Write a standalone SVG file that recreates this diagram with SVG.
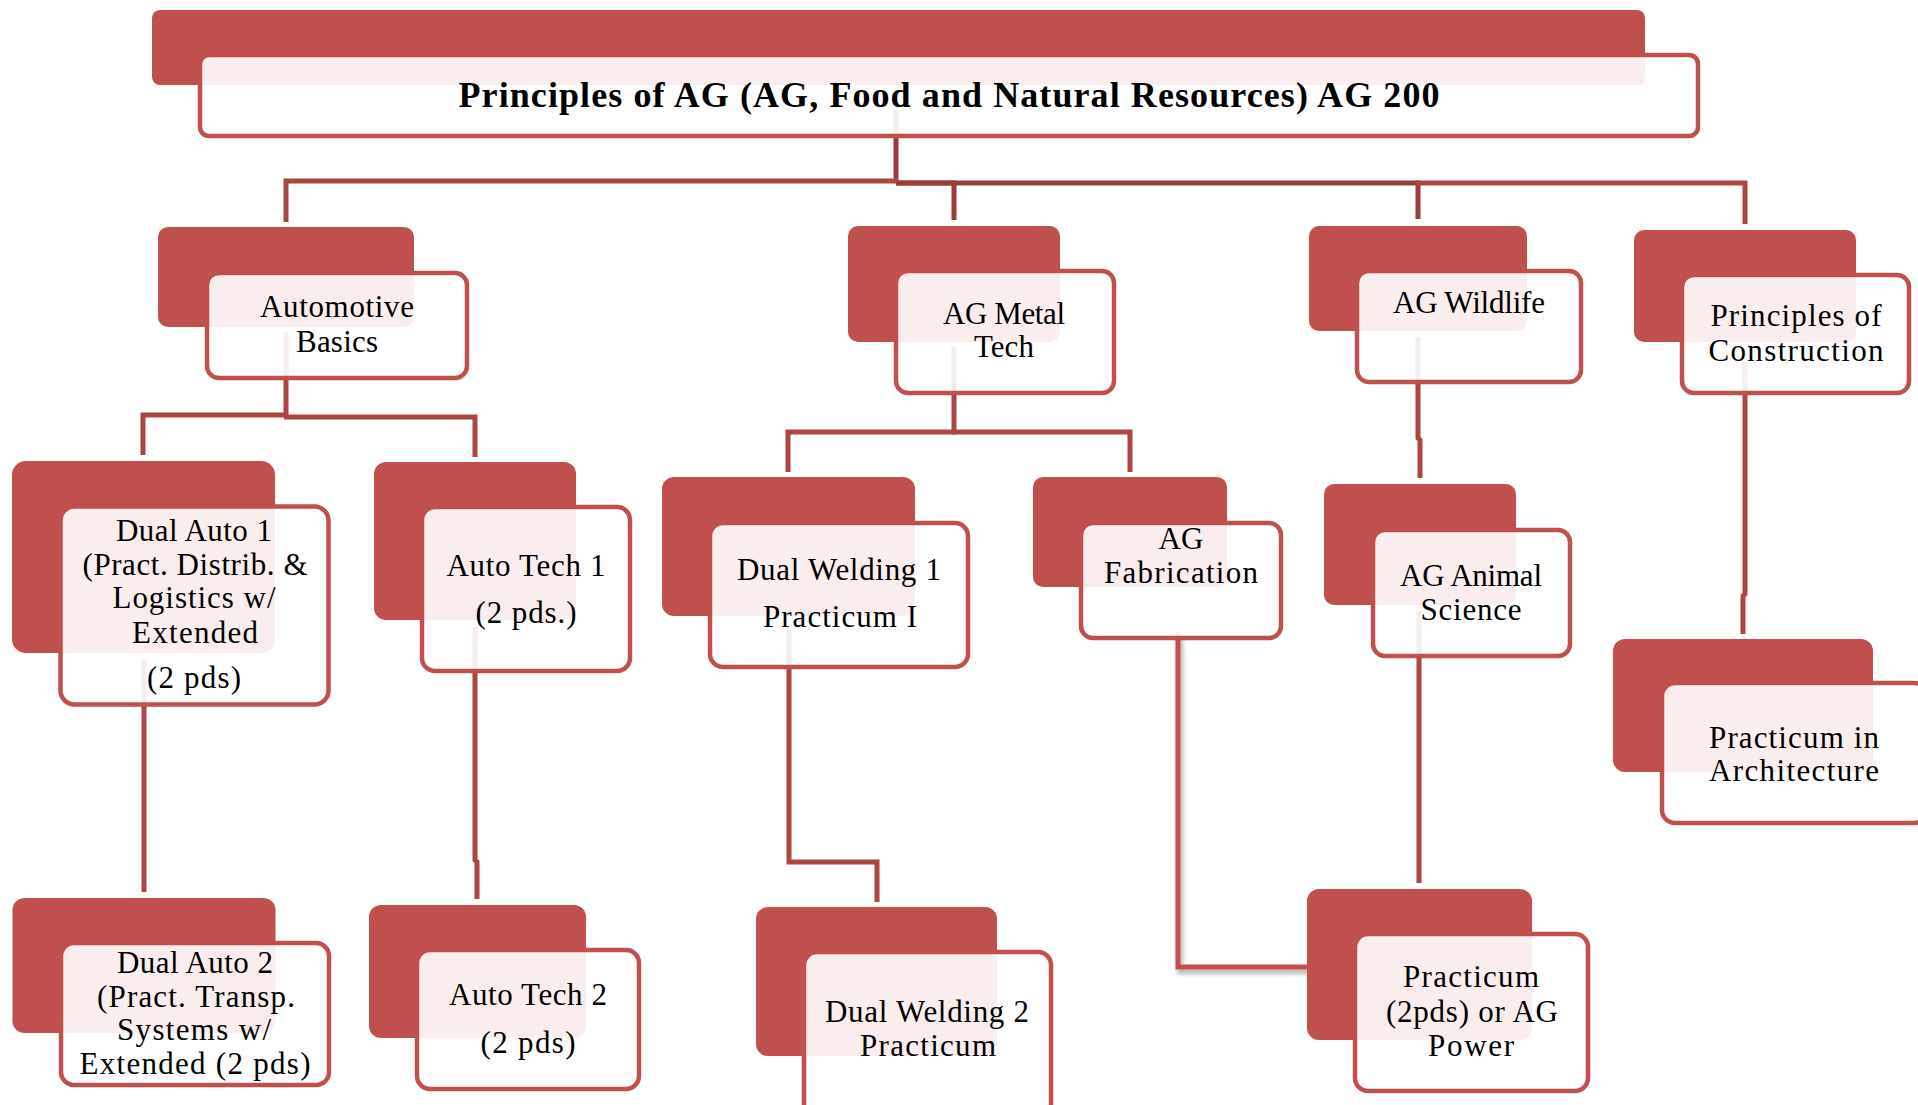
<svg xmlns="http://www.w3.org/2000/svg" width="1918" height="1105" viewBox="0 0 1918 1105">
<style>
  .back { fill: #C0504D; }
  .front { fill: #FFFFFF; fill-opacity: 0.9; stroke: #C0504D; stroke-width: 4.5; }
  .lbl { font-family: "Liberation Serif", "Times New Roman", serif; font-size: 31px; fill: #000; text-anchor: middle; }
  .title { font-family: "Liberation Serif", "Times New Roman", serif; font-size: 36px; font-weight: bold; fill: #000; text-anchor: middle; }
  .conn { fill: none; stroke: #AD4542; stroke-width: 5; }
  .dark { stroke: #9B3C3A; }
  .light { stroke: #C0504D; }
</style>
<defs>
  <filter id="shadow" x="-10%" y="-10%" width="130%" height="150%">
    <feDropShadow dx="2" dy="4" stdDeviation="2.5" flood-color="#000" flood-opacity="0.35"/>
  </filter>
</defs>
<rect width="1918" height="1105" fill="#FFFFFF"/>

<g id="connectors">
  <path class="conn dark" d="M896,110 V183"/>
  <path class="conn" d="M898,181 H286 V222"/>
  <path class="conn dark" d="M896,183 H954 V220"/>
  <path class="conn dark" d="M896,183 H1418 V219"/>
  <path class="conn" d="M1416,183 H1745 V224"/>

  <path class="conn" d="M286,332 V416"/>
  <path class="conn" d="M288,415 H143 V455"/>
  <path class="conn" d="M284,417 H475 V457"/>
  <path class="conn" d="M144,660 V892"/>
  <path class="conn" d="M475,627 V860 L477,862 V899"/>

  <path class="conn" d="M954,347 V432"/>
  <path class="conn" d="M956,432 H788 V472"/>
  <path class="conn" d="M952,432 H1130 V472"/>
  <path class="conn" d="M789,630 V862 H877 V902"/>
  <path class="conn light" d="M1178,632 V967 H1323" filter="url(#shadow)"/>

  <path class="conn" d="M1418,337 V438 L1420,440 V478"/>
  <path class="conn" d="M1419,611 V883"/>
  <path class="conn" d="M1745,362 V594 L1743,596 V634"/>
</g>

<g id="node-title">
  <rect class="back" x="152" y="10" width="1493" height="75" rx="8"/>
  <rect class="front" x="200" y="55" width="1498" height="81" rx="9"/>
  <text class="title" x="949" y="107" textLength="981" lengthAdjust="spacing">Principles of AG (AG, Food and Natural Resources) AG 200</text>
</g>

<g id="node-automotive-basics">
  <rect class="back" x="158" y="227" width="256" height="100" rx="10"/>
  <rect class="front" x="207" y="273" width="260" height="105" rx="12"/>
  <text class="lbl" x="337" y="317" textLength="154" lengthAdjust="spacing">Automotive</text>
  <text class="lbl" x="337" y="352" textLength="82" lengthAdjust="spacing">Basics</text>
</g>

<g id="node-ag-metal-tech">
  <rect class="back" x="848" y="226" width="212" height="116" rx="10"/>
  <rect class="front" x="896" y="271" width="218" height="122" rx="12"/>
  <text class="lbl" x="1004" y="324" textLength="122" lengthAdjust="spacing">AG Metal</text>
  <text class="lbl" x="1004" y="357">Tech</text>
</g>

<g id="node-ag-wildlife">
  <rect class="back" x="1309" y="226" width="218" height="105" rx="10"/>
  <rect class="front" x="1357" y="271" width="224" height="111" rx="12"/>
  <text class="lbl" x="1469" y="313" textLength="152" lengthAdjust="spacing">AG Wildlife</text>
</g>

<g id="node-principles-construction">
  <rect class="back" x="1634" y="230" width="222" height="112" rx="10"/>
  <rect class="front" x="1682" y="275" width="227" height="118" rx="12"/>
  <text class="lbl" x="1796" y="326" textLength="171" lengthAdjust="spacing">Principles of</text>
  <text class="lbl" x="1796" y="361" textLength="175" lengthAdjust="spacing">Construction</text>
</g>

<g id="node-dual-auto-1">
  <rect class="back" x="12" y="461" width="263" height="192" rx="14"/>
  <rect class="front" x="60.5" y="506.5" width="268" height="198" rx="14"/>
  <text class="lbl" x="194" y="541" textLength="156" lengthAdjust="spacing">Dual Auto 1</text>
  <text class="lbl" x="195" y="575" textLength="225" lengthAdjust="spacing">(Pract. Distrib. &amp;</text>
  <text class="lbl" x="194" y="608" textLength="163" lengthAdjust="spacing">Logistics w/</text>
  <text class="lbl" x="195" y="643" textLength="126" lengthAdjust="spacing">Extended</text>
  <text class="lbl" x="194" y="688" textLength="94" lengthAdjust="spacing">(2 pds)</text>
</g>

<g id="node-auto-tech-1">
  <rect class="back" x="374" y="462" width="202" height="158" rx="12"/>
  <rect class="front" x="422" y="507" width="208" height="164" rx="13"/>
  <text class="lbl" x="526" y="576" textLength="159" lengthAdjust="spacing">Auto Tech 1</text>
  <text class="lbl" x="526" y="623" textLength="101" lengthAdjust="spacing">(2 pds.)</text>
</g>

<g id="node-dual-welding-1">
  <rect class="back" x="662" y="477" width="253" height="139" rx="12"/>
  <rect class="front" x="710" y="523" width="258" height="144" rx="13"/>
  <text class="lbl" x="839" y="580" textLength="204" lengthAdjust="spacing">Dual Welding 1</text>
  <text class="lbl" x="840" y="627" textLength="154" lengthAdjust="spacing">Practicum I</text>
</g>

<g id="node-ag-fabrication">
  <rect class="back" x="1033" y="477" width="194" height="110" rx="10"/>
  <rect class="front" x="1081" y="523" width="200" height="115" rx="12"/>
  <text class="lbl" x="1181" y="549">AG</text>
  <text class="lbl" x="1181" y="583" textLength="154" lengthAdjust="spacing">Fabrication</text>
</g>

<g id="node-ag-animal-science">
  <rect class="back" x="1324" y="484" width="192" height="121" rx="10"/>
  <rect class="front" x="1373" y="530" width="197" height="126" rx="12"/>
  <text class="lbl" x="1471" y="586" textLength="142" lengthAdjust="spacing">AG Animal</text>
  <text class="lbl" x="1471" y="620" textLength="101" lengthAdjust="spacing">Science</text>
</g>

<g id="node-practicum-architecture">
  <rect class="back" x="1613" y="639" width="260" height="133" rx="12"/>
  <rect class="front" x="1662" y="683" width="265" height="140" rx="13"/>
  <text class="lbl" x="1794" y="748" textLength="170" lengthAdjust="spacing">Practicum in</text>
  <text class="lbl" x="1794" y="781" textLength="170" lengthAdjust="spacing">Architecture</text>
</g>

<g id="node-dual-auto-2">
  <rect class="back" x="12.5" y="898" width="263" height="135" rx="12"/>
  <rect class="front" x="61" y="943" width="268" height="142" rx="13"/>
  <text class="lbl" x="195" y="973" textLength="156" lengthAdjust="spacing">Dual Auto 2</text>
  <text class="lbl" x="196" y="1007" textLength="198" lengthAdjust="spacing">(Pract. Transp.</text>
  <text class="lbl" x="194" y="1040" textLength="154" lengthAdjust="spacing">Systems w/</text>
  <text class="lbl" x="195" y="1074" textLength="231" lengthAdjust="spacing">Extended (2 pds)</text>
</g>

<g id="node-auto-tech-2">
  <rect class="back" x="369" y="905" width="217" height="133" rx="12"/>
  <rect class="front" x="417" y="950" width="222" height="139" rx="13"/>
  <text class="lbl" x="528" y="1005" textLength="158" lengthAdjust="spacing">Auto Tech 2</text>
  <text class="lbl" x="528" y="1053" textLength="95" lengthAdjust="spacing">(2 pds)</text>
</g>

<g id="node-dual-welding-2">
  <rect class="back" x="756" y="907" width="241" height="149" rx="12"/>
  <rect class="front" x="804" y="952" width="247" height="165" rx="13"/>
  <text class="lbl" x="927" y="1022" textLength="204" lengthAdjust="spacing">Dual Welding 2</text>
  <text class="lbl" x="928" y="1056" textLength="136" lengthAdjust="spacing">Practicum</text>
</g>

<g id="node-practicum-ag-power">
  <rect class="back" x="1307" y="889" width="225" height="151" rx="12"/>
  <rect class="front" x="1355" y="934" width="233" height="157" rx="13"/>
  <text class="lbl" x="1471" y="987" textLength="136" lengthAdjust="spacing">Practicum</text>
  <text class="lbl" x="1472" y="1022" textLength="172" lengthAdjust="spacing">(2pds) or AG</text>
  <text class="lbl" x="1471" y="1056" textLength="86" lengthAdjust="spacing">Power</text>
</g>
</svg>
